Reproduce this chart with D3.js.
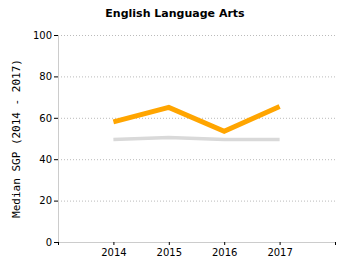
<!DOCTYPE html>
<html>
<head>
<meta charset="utf-8">
<script src="https://cdn.jsdelivr.net/npm/d3@7"></script>
<style>
  body { margin: 0; background: #fff; }
  .tick text { font-family: "DejaVu Sans", Verdana, sans-serif; font-size: 10px; fill: #000; }
</style>
</head>
<body>
<div id="chart"></div>
<script>
const years = [2014, 2015, 2016, 2017];
const domainYears = [2013, 2014, 2015, 2016, 2017, 2018];
const schoolSGP = [58, 65, 53.5, 65.5];
const stateSGP = [49.5, 50.5, 49.5, 49.5];
const yTicks = [0, 20, 40, 60, 80, 100];

const svgWidth = 350, svgHeight = 275;
const margin = {top: 35, right: 15, bottom: 33, left: 58},
      width = svgWidth - margin.left - margin.right,
      height = svgHeight - margin.top - margin.bottom;

const svg = d3.select("#chart").append("svg")
    .attr("width", svgWidth).attr("height", svgHeight);

svg.append("text")
    .attr("x", 175).attr("y", 17)
    .attr("text-anchor", "middle")
    .style("font-family", "'DejaVu Sans', Verdana, sans-serif")
    .style("font-weight", "bold")
    .style("font-size", "11px")
    .text("English Language Arts");

const g = svg.append("g")
    .attr("transform", "translate(" + margin.left + "," + margin.top + ")");

const x = d3.scalePoint().domain(domainYears).range([0, width]);
const y = d3.scaleLinear().domain([0, 100]).range([height, 0]);

// grid
g.append("g").selectAll("line")
    .data(yTicks.filter(d => d > 0))
    .enter().append("line")
      .attr("x1", 0).attr("x2", width)
      .attr("y1", d => y(d) + 0.5).attr("y2", d => y(d) + 0.5)
      .attr("stroke", "#bbb")
      .attr("stroke-dasharray", "1,2");

// Y axis
const yAxis = g.append("g")
    .call(d3.axisLeft(y).tickValues(yTicks).tickSize(4).tickPadding(2));
yAxis.select(".domain").attr("stroke", "#ccc");
yAxis.selectAll(".tick line").attr("stroke", "#000");

// X axis
const xAxis = g.append("g")
    .attr("transform", "translate(0," + height + ")")
    .call(d3.axisBottom(x).tickValues(domainYears).tickSize(3).tickPadding(4)
        .tickFormat(d => years.includes(d) ? d : ""));
xAxis.select(".domain").attr("stroke", "#ccc");
xAxis.selectAll(".tick line").attr("stroke", "#000");

svg.append("text")
    .attr("transform", "translate(20," + (margin.top + height / 2) + ")rotate(-90)")
    .attr("text-anchor", "middle")
    .style("font-family", "'DejaVu Sans Mono', monospace")
    .style("font-size", "11px")
    .text("Median SGP (2014 - 2017)");

const line = d3.line().x(d => x(d[0])).y(d => y(d[1]));

g.append("path")
    .datum(years.map((yr, i) => [yr, stateSGP[i]]))
    .attr("d", line)
    .attr("fill", "none")
    .attr("stroke", "#d9d9d9")
    .attr("stroke-width", 3.5);

g.append("path")
    .datum(years.map((yr, i) => [yr, schoolSGP[i]]))
    .attr("d", line)
    .attr("fill", "none")
    .attr("stroke", "#ffa500")
    .attr("stroke-width", 5)
    .attr("stroke-linejoin", "miter");
</script>
</body>
</html>
